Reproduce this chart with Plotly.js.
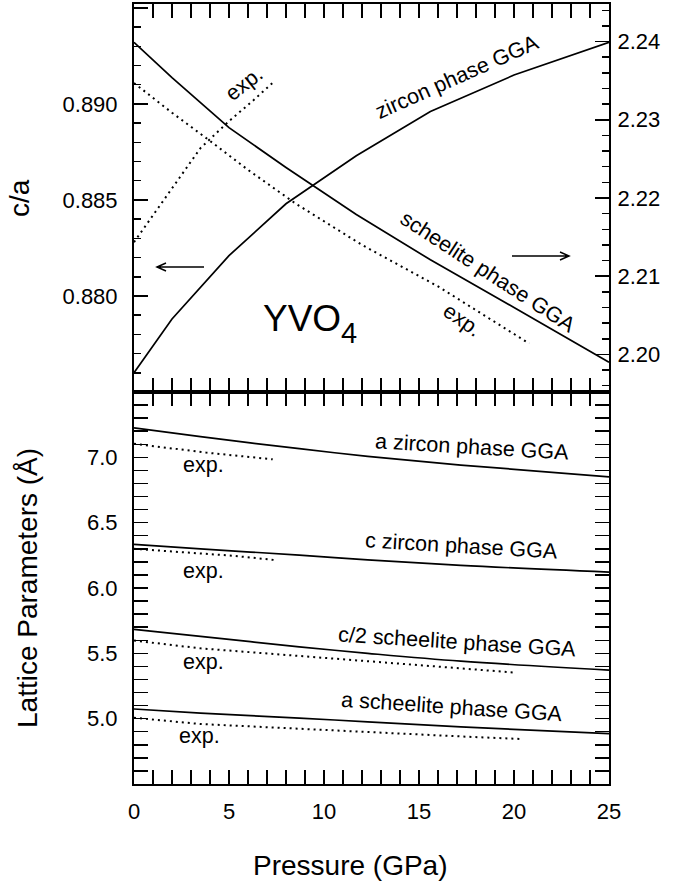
<!DOCTYPE html>
<html>
<head>
<meta charset="utf-8">
<script src="https://cdn.plot.ly/plotly-3.0.1.min.js"></script>
<style>html,body{margin:0;padding:0;background:#fff;}#chart{width:674px;height:886px;}#info{display:none;}</style>
</head>
<body>
<div id="chart"></div>
<div id="info"></div>
<script>
// ---- Top panel: c/a ratio (zircon: left axis, scheelite: right axis) ----
const pZrGGA = [0, 2, 5, 8, 11.7, 15.6, 20, 25];
const caZrGGA = [0.8760, 0.8788, 0.8821, 0.8848, 0.8873, 0.8896, 0.8915, 0.8932];
const pZrExp = [0, 2, 3.5, 5, 6.3, 7.3];
const caZrExp = [0.8828, 0.8856, 0.8877, 0.8891, 0.8902, 0.8911];
const pScGGA = [0, 2, 5, 8, 11.7, 15.6, 20, 25];
const caScGGA = [2.2399, 2.2354, 2.2290, 2.2239, 2.2179, 2.2121, 2.2060, 2.1990];
const pScExp = [0, 2, 4, 6, 8.5, 12, 16, 20.8];
const caScExp = [2.2347, 2.2309, 2.2273, 2.2236, 2.2193, 2.2140, 2.2087, 2.2014];

// ---- Bottom panel: lattice parameters (Å) ----
const pGGA = [0, 3.5, 8.7, 12.3, 17.2, 25];
const aZrGGA = [7.225, 7.158, 7.066, 7.008, 6.941, 6.851];
const cZrGGA = [6.334, 6.300, 6.251, 6.216, 6.173, 6.122];
const c2ScGGA = [5.684, 5.630, 5.550, 5.500, 5.440, 5.372];
const aScGGA = [5.074, 5.043, 5.004, 4.976, 4.937, 4.885];
const pAZrExp = [0, 3.8, 7.3];
const aZrExp = [7.104, 7.036, 6.985];
const pCZrExp = [0, 5.2, 7.5];
const cZrExp = [6.300, 6.247, 6.213];
const pC2ScExp = [0, 3.5, 17.2, 20.1];
const c2ScExp = [5.598, 5.538, 5.385, 5.352];
const pAScExp = [0, 3.5, 17.2, 20.4];
const aScExp = [5.007, 4.959, 4.864, 4.844];

const FONT = 'Liberation Sans, Arial, Helvetica, sans-serif';

function tr(x, y, xa, ya, kind) {
  let line;
  if (kind === 'dot') line = {color: 'black', width: 2, dash: '2px,4px'};
  else if (kind === 'smooth') line = {color: 'black', width: 1.7, shape: 'spline', smoothing: 1};
  else line = {color: 'black', width: 1.7};
  return {x: x, y: y, xaxis: xa, yaxis: ya, mode: 'lines', line: line};
}
// empty carriers so the minor-tick axes always get a subplot
function carrier(xa, ya) { return {x: [], y: [], xaxis: xa, yaxis: ya, mode: 'lines', line: {color: 'black'}}; }

const data = [
  tr(pZrGGA, caZrGGA, 'x2', 'y2'),
  tr(pZrExp, caZrExp, 'x2', 'y2', 'dot'),
  tr(pScGGA, caScGGA, 'x2', 'y3'),
  tr(pScExp, caScExp, 'x2', 'y3', 'dot'),
  tr(pGGA, aZrGGA, 'x', 'y', 'smooth'),
  tr(pGGA, cZrGGA, 'x', 'y', 'smooth'),
  tr(pGGA, c2ScGGA, 'x', 'y', 'smooth'),
  tr(pGGA, aScGGA, 'x', 'y', 'smooth'),
  tr(pAZrExp, aZrExp, 'x', 'y', 'dot'),
  tr(pCZrExp, cZrExp, 'x', 'y', 'dot'),
  tr(pC2ScExp, c2ScExp, 'x', 'y', 'dot'),
  tr(pAScExp, aScExp, 'x', 'y', 'dot'),
  carrier('x3', 'y'), carrier('x4', 'y2'), carrier('x', 'y4'), carrier('x2', 'y5'), carrier('x2', 'y6')
];

// plot-area geometry in pixels
const L = 134, R = 609, T = 4, B = 784, MID = 392;
const px = v => (v - L) / (R - L);
const py = v => (B - v) / (B - T);
const split = py(MID);

const axBase = {
  showline: true, linecolor: 'black', linewidth: 2, mirror: false,
  ticks: 'inside', ticklen: 14, tickwidth: 1.5, tickcolor: 'black',
  showgrid: false, zeroline: false, fixedrange: true, tickmode: 'linear',
  tickfont: {family: FONT, size: 22, color: 'black'}
};
function minor(t0, d) {
  return {tick0: t0, dtick: d, ticks: 'inside', ticklen: 7, tickwidth: 1.5, tickcolor: 'black', showgrid: false};
}
// axis carrying only short ticks (fallback for minor ticks)
function minorAxis(extra) {
  return Object.assign({
    tickmode: 'linear', ticks: 'inside', ticklen: 7, tickwidth: 1.5, tickcolor: 'black',
    showline: false, showticklabels: false, showgrid: false, zeroline: false, fixedrange: true
  }, extra);
}

function ann(text, x, y, size, angle, extra) {
  return Object.assign({
    text: text, xref: 'paper', yref: 'paper', x: px(x), y: py(y),
    xanchor: 'center', yanchor: 'middle', showarrow: false,
    textangle: angle || 0, font: {family: FONT, size: size, color: 'black'}
  }, extra || {});
}

const annotations = [
  ann('exp.', 244, 84, 21.5, -38),
  ann('zircon phase GGA', 457, 77, 21.5, -24),
  ann('scheelite phase GGA', 488, 272, 21.5, 33),
  ann('exp.', 462, 320, 21.5, 35),
  ann('YVO', 261, 318, 37, 0, {xanchor: 'left'}),
  ann('4', 339, 333, 29, 0, {xanchor: 'left'}),
  ann('a zircon phase GGA', 472, 447, 21.5, 3.4),
  ann('c zircon phase GGA', 461, 546, 21.5, 3.4),
  ann('c/2 scheelite phase GGA', 457, 642, 21.5, 3.6),
  ann('a scheelite phase GGA', 452, 707, 21.5, 3.8),
  ann('exp.', 203, 465, 21.5, 0),
  ann('exp.', 203, 571, 21.5, 0),
  ann('exp.', 203, 662, 21.5, 0),
  ann('exp.', 199, 736, 21.5, 0),
  ann('c/a', 19, 198, 28, -90),
  ann('Lattice Parameters (Å)', 27, 588, 28, -90),
  ann('Pressure (GPa)', 350, 865, 28, 0)
];

function arrowPath(x0, x1, y, dir) {
  const h = 9 * dir, w = 4;
  return 'M' + px(x0) + ',' + py(y) + ' L' + px(x1) + ',' + py(y) +
         ' M' + px(x1 - h) + ',' + py(y - w) + ' L' + px(x1) + ',' + py(y) +
         ' L' + px(x1 - h) + ',' + py(y + w);
}
const shapes = [
  {type: 'path', xref: 'paper', yref: 'paper', path: arrowPath(204, 157, 267, -1), line: {color: 'black', width: 1.5}},
  {type: 'path', xref: 'paper', yref: 'paper', path: arrowPath(512, 569, 256, 1), line: {color: 'black', width: 1.5}}
];

const rangeY = [4.5, 7.5], rangeY2 = [0.875, 0.8952], rangeY3 = [2.1952, 2.2448], rangeX = [0, 25];

const layout = {
  width: 674, height: 886,
  margin: {l: L, r: 674 - R, t: T, b: 886 - B, pad: 0},
  showlegend: false,
  xaxis: Object.assign({}, axBase, {domain: [0, 1], anchor: 'y', range: rangeX, tick0: 0, dtick: 5,
    mirror: 'allticks', minor: minor(0, 1), ticklabelstandoff: 7}),
  yaxis: Object.assign({}, axBase, {domain: [0, split], anchor: 'x', range: rangeY, tick0: 5, dtick: 0.5, tickformat: '.1f',
    labelalias: {'4.5': ' ', '7.5': ' '}, mirror: 'allticks', minor: minor(4.5, 0.1), ticklabelstandoff: 10}),
  xaxis2: Object.assign({}, axBase, {domain: [0, 1], anchor: 'y2', range: rangeX, tick0: 0, dtick: 5,
    showticklabels: false, mirror: 'allticks', minor: minor(0, 1)}),
  yaxis2: Object.assign({}, axBase, {domain: [split, 1], anchor: 'x2', range: rangeY2, tick0: 0.880, dtick: 0.005,
    tickformat: '.3f', labelalias: {'0.895': ' ', '0.875': ' '}, minor: minor(0.875, 0.001), ticklabelstandoff: 10}),
  yaxis3: Object.assign({}, axBase, {overlaying: 'y2', side: 'right', anchor: 'x2', range: rangeY3, tick0: 2.20, dtick: 0.01,
    tickformat: '.2f', minor: minor(2.19, 0.002), ticklabelstandoff: 2}),
  // short-tick axes
  xaxis3: minorAxis({overlaying: 'x', anchor: 'y', range: rangeX, tick0: 0, dtick: 1, mirror: 'ticks'}),
  xaxis4: minorAxis({overlaying: 'x2', anchor: 'y2', range: rangeX, tick0: 0, dtick: 1, mirror: 'ticks'}),
  yaxis4: minorAxis({overlaying: 'y', anchor: 'x', range: rangeY, tick0: 4.5, dtick: 0.1, mirror: 'ticks'}),
  yaxis5: minorAxis({overlaying: 'y2', anchor: 'x2', side: 'left', range: rangeY2, tick0: 0.875, dtick: 0.001}),
  yaxis6: minorAxis({overlaying: 'y2', anchor: 'x2', side: 'right', range: rangeY3, tick0: 2.19, dtick: 0.002}),
  annotations: annotations,
  shapes: shapes
};

Plotly.newPlot('chart', data, layout, {staticPlot: true, displayModeBar: false}).then(gd => {
  const fl = gd._fullLayout;
  document.getElementById('info').textContent = String(fl.yaxis.minor && fl.yaxis.minor.ticks);
}).catch(() => {});
</script>
</body>
</html>
